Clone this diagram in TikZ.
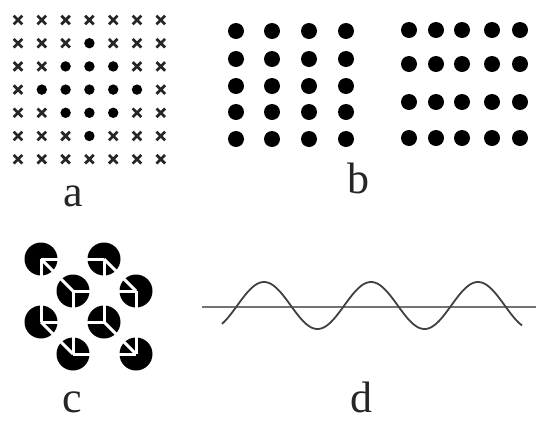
\documentclass[tikz,border=0pt]{standalone}
\usepackage{fontspec}
\setmainfont{Liberation Serif}
\usetikzlibrary{calc}
\begin{document}
\begin{tikzpicture}[x=1pt,y=-1pt,
  lbl/.style={anchor=base,inner sep=0pt,font=\fontsize{44}{44}\selectfont,text=black!85},
  crossline/.style={line width=2.7pt,draw=black!85},
  dot/.style={fill=black},
  disc/.style={fill=black},
  cut/.style={draw=white,line width=3pt},
  axisline/.style={draw=black!55,line width=1.6pt},
  wave/.style={draw=black!75,line width=1.8pt}]
\useasboundingbox (0,0) rectangle (536,421);
% panel a
\foreach \r in {0,...,6}{
  \foreach \c in {0,...,6}{
    \pgfmathsetmacro\px{18+23.8*\c}
    \pgfmathsetmacro\py{20+23.2*\r}
    \pgfmathtruncatemacro\d{abs(\r-3)+abs(\c-3)}
    \ifnum\d<3
      \fill[dot] (\px,\py) circle (5.2);
    \else
      \draw[crossline] (\px-4.3,\py-4.3) -- (\px+4.3,\py+4.3) (\px-4.3,\py+4.3) -- (\px+4.3,\py-4.3);
    \fi
  }
}
\node[lbl] (la) at (73,206) {a};
% panel b
\foreach \x in {236,272,309,346}{
  \foreach \y in {31,59,86,112,139}{
    \fill[dot] (\x,\y) circle (8);
  }
}
\foreach \x in {409,436,462,492,520}{
  \foreach \y in {30,64,102,138}{
    \fill[dot] (\x,\y) circle (8);
  }
}
\node[lbl] (lb) at (358,193) {b};
% panel c : Kanizsa-like Necker cube
\coordinate (v1) at (41,259);
\coordinate (v2) at (104,259);
\coordinate (v5) at (41,322);
\coordinate (v6) at (104,322);
\coordinate (v3) at (73,291);
\coordinate (v4) at (136,291);
\coordinate (v7) at (73,354);
\coordinate (v8) at (136,354);
\foreach \v in {v1,v2,v3,v4,v5,v6,v7,v8}{
  \fill[disc] (\v) circle (16.5);
}
\foreach \a/\b in {v1/v2,v2/v6,v6/v5,v5/v1,v3/v4,v4/v8,v8/v7,v7/v3,v1/v3,v2/v4,v5/v7,v6/v8}{
  \draw[cut] (\a) -- ($(\a)!18pt!(\b)$);
  \draw[cut] (\b) -- ($(\b)!18pt!(\a)$);
}
\node[lbl] (lc) at (72,412) {c};
% panel d
\draw[axisline] (202,307) -- (536,307);
\draw[wave] plot[domain=222:522,samples=160,smooth] (\x,{305.5-23.5*sin((\x-237.25)*3.36449)});
\node[lbl] (ld) at (361,412) {d};
\end{tikzpicture}
\end{document}
